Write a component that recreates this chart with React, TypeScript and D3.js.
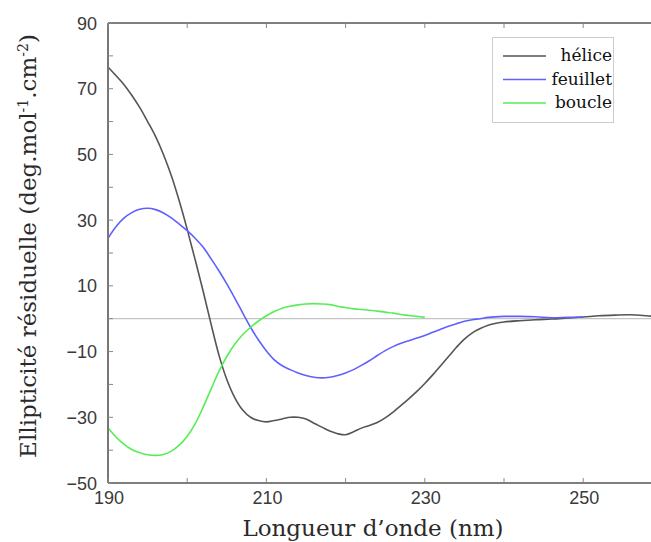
import React, { useRef, useEffect } from "react";
import * as d3 from "d3";

// wavelengths (nm) and residual ellipticity per structure
const heliceNm = [190, 191, 192, 193, 194, 195, 196, 197, 198, 199, 200, 201, 202, 203, 204, 205, 206, 207, 208, 209, 210, 211, 212, 213, 214, 215, 216, 217, 218, 219, 220, 221, 222, 223, 224, 225, 226, 227, 228, 229, 230, 231, 232, 233, 234, 235, 236, 237, 238, 239, 240, 242, 244, 246, 248, 250, 252, 254, 256, 258, 260];
const heliceVals = [76.6, 74, 71.3, 68, 64.3, 60, 55.5, 50, 43.5, 35.8, 27.2, 18, 8.5, -1.5, -11, -18.5, -24, -27.8, -30, -31, -31.4, -31, -30.5, -30, -30, -30.5, -31.8, -33, -34.2, -35, -35.3, -34.4, -33.3, -32.5, -31.6, -30.2, -28.4, -26.4, -24.3, -22.1, -19.7, -17.1, -14.3, -11.5, -8.7, -6.2, -4.3, -3.0, -2.0, -1.4, -1.0, -0.6, -0.3, -0.1, 0.2, 0.5, 0.9, 1.1, 1.2, 0.9, 0.5];

const feuilletNm = [190, 191, 192, 193, 194, 195, 196, 197, 198, 199, 200, 201, 202, 203, 204, 205, 206, 207, 208, 209, 210, 211, 212, 213, 214, 215, 216, 217, 218, 219, 220, 221, 222, 223, 224, 225, 226, 227, 228, 229, 230, 231, 232, 233, 234, 235, 236, 237, 238, 240, 242, 244, 246, 248, 250];
const feuilletVals = [24.5, 28, 30.6, 32.3, 33.3, 33.6, 33.2, 32.2, 30.7, 28.8, 26.8, 24.5, 21.8, 18.3, 14.6, 10.6, 6.3, 1.8, -2.6, -6.5, -9.8, -12.5, -14.3, -15.5, -16.5, -17.3, -17.8, -18, -17.8, -17.3, -16.5, -15.5, -14.2, -12.8, -11.2, -9.7, -8.5, -7.5, -6.7, -5.9, -5.1, -4.1, -3.2, -2.3, -1.5, -0.8, -0.3, 0, 0.4, 0.7, 0.7, 0.6, 0.3, 0.4, 0.5];

const boucleNm = [190, 191, 192, 193, 194, 195, 196, 197, 198, 199, 200, 201, 202, 203, 204, 205, 206, 207, 208, 209, 210, 211, 212, 213, 214, 215, 216, 217, 218, 219, 220, 221, 222, 223, 224, 225, 226, 227, 228, 229, 230];
const boucleVals = [-33.2, -36, -38.2, -39.8, -40.8, -41.4, -41.6, -41.3, -40.3, -38.5, -35.8, -32, -27, -21.5, -16, -11.5, -7.8, -4.9, -2.6, -0.7, 0.9, 2.2, 3.2, 3.8, 4.2, 4.5, 4.6, 4.5, 4.3, 3.8, 3.4, 3.0, 2.8, 2.6, 2.3, 2, 1.7, 1.3, 1, 0.7, 0.4];

const seriesNames = ["hélice", "feuillet", "boucle"];
const seriesColors = ["#555555", "#6060ff", "#55ee55"];

const xLabelTicks = [190, 210, 230, 250];
const yLabelTicks = [90, 70, 50, 30, 10, -10, -30, -50];

const App: React.FC = () => {
  const svgRef = useRef<SVGSVGElement | null>(null);
  const width = 651;
  const height = 542;

  useEffect(() => {
    if (!svgRef.current) return;
    const svg = d3.select(svgRef.current);
    svg.selectAll("*").remove();

    const left = 108, top = 23, bottom = 483;
    const x = d3.scaleLinear().domain([190, 260]).range([left, left + 7 * 79.2]);
    const y = d3.scaleLinear().domain([-50, 90]).range([bottom, top]);

    const series = [
      heliceNm.map((n, i) => [n, heliceVals[i]] as [number, number]),
      feuilletNm.map((n, i) => [n, feuilletVals[i]] as [number, number]),
      boucleNm.map((n, i) => [n, boucleVals[i]] as [number, number]),
    ];

    // zero line
    svg.append("line")
      .attr("x1", x(190)).attr("x2", x(260))
      .attr("y1", y(0)).attr("y2", y(0))
      .attr("stroke", "#c4c4c4").attr("stroke-width", 1.3);

    const line = d3.line<[number, number]>()
      .x(d => x(d[0]))
      .y(d => y(d[1]))
      .curve(d3.curveCatmullRom.alpha(0.5));

    svg.append("g")
      .selectAll("path")
      .data(series)
      .enter().append("path")
      .attr("fill", "none")
      .attr("stroke", (_, i) => seriesColors[i])
      .attr("stroke-width", 1.6)
      .attr("d", d => line(d));

    // frame
    const axis = svg.append("g").attr("stroke", "#555").attr("fill", "none");
    axis.append("line").attr("x1", left).attr("x2", x(260)).attr("y1", top).attr("y2", top).attr("stroke-width", 1.3);
    axis.append("line").attr("x1", left).attr("x2", x(260)).attr("y1", bottom).attr("y2", bottom).attr("stroke-width", 1.3);
    axis.append("line").attr("x1", left).attr("x2", left).attr("y1", top).attr("y2", bottom).attr("stroke-width", 2).attr("stroke", "#777");

    // ticks, pointing inward
    const xTicks = d3.range(190, 261, 10);
    const yTicks = d3.range(-50, 91, 10);
    axis.selectAll(".xtb").data(xTicks).enter().append("line")
      .attr("x1", d => x(d)).attr("x2", d => x(d))
      .attr("y1", bottom).attr("y2", bottom - 5).attr("stroke", "#888");
    axis.selectAll(".xtt").data(xTicks).enter().append("line")
      .attr("x1", d => x(d)).attr("x2", d => x(d))
      .attr("y1", top).attr("y2", top + 5).attr("stroke", "#888");
    axis.selectAll(".yt").data(yTicks).enter().append("line")
      .attr("x1", left).attr("x2", left + 5)
      .attr("y1", d => y(d)).attr("y2", d => y(d)).attr("stroke", "#888");

    const tickFont = "'Liberation Sans', Arial, sans-serif";
    svg.append("g").selectAll("text").data(xLabelTicks).enter().append("text")
      .attr("x", d => x(d) + 1).attr("y", 504)
      .attr("text-anchor", "middle")
      .attr("font-family", tickFont).attr("font-size", 18).attr("fill", "#3a3a3a")
      .text(d => String(d));

    svg.append("g").selectAll("text").data(yLabelTicks).enter().append("text")
      .attr("x", 97).attr("y", d => y(d) + 6.5)
      .attr("text-anchor", "end")
      .attr("font-family", tickFont).attr("font-size", 18).attr("fill", "#3a3a3a")
      .text(d => (d < 0 ? "\u2212" + Math.abs(d) : String(d)));

    const titleFont = "'DejaVu Serif', serif";
    svg.append("text")
      .attr("x", 373).attr("y", 536)
      .attr("text-anchor", "middle")
      .attr("font-family", titleFont).attr("font-size", 23).attr("fill", "#2a2a2a")
      .text("Longueur d\u2019onde (nm)");

    const yt = svg.append("text")
      .attr("transform", "translate(36,246) rotate(-90)")
      .attr("text-anchor", "middle")
      .attr("font-family", titleFont).attr("font-size", 23).attr("fill", "#2a2a2a");
    yt.append("tspan").text("Ellipticit\u00e9 r\u00e9siduelle (deg.mol");
    yt.append("tspan").attr("baseline-shift", "super").attr("font-size", 14).text("-1");
    yt.append("tspan").text(".cm");
    yt.append("tspan").attr("baseline-shift", "super").attr("font-size", 14).text("-2");
    yt.append("tspan").text(")");

    // legend
    const lg = svg.append("g");
    lg.append("rect")
      .attr("x", 492.5).attr("y", 37.5).attr("width", 121).attr("height", 85)
      .attr("fill", "#fff").attr("stroke", "#ccc");
    const rowsY = [56, 79.5, 103];
    seriesNames.forEach((name, i) => {
      lg.append("line")
        .attr("x1", 503).attr("x2", 546)
        .attr("y1", rowsY[i]).attr("y2", rowsY[i])
        .attr("stroke", seriesColors[i]).attr("stroke-width", 1.6);
      lg.append("text")
        .attr("x", 612).attr("y", rowsY[i] + 5)
        .attr("text-anchor", "end")
        .attr("font-family", titleFont).attr("font-size", 17).attr("fill", "#111")
        .text(name);
    });
  }, []);

  return <svg ref={svgRef} width={width} height={height} style={{ position: "absolute", left: 0, top: 0 }}></svg>;
};

export default App;
